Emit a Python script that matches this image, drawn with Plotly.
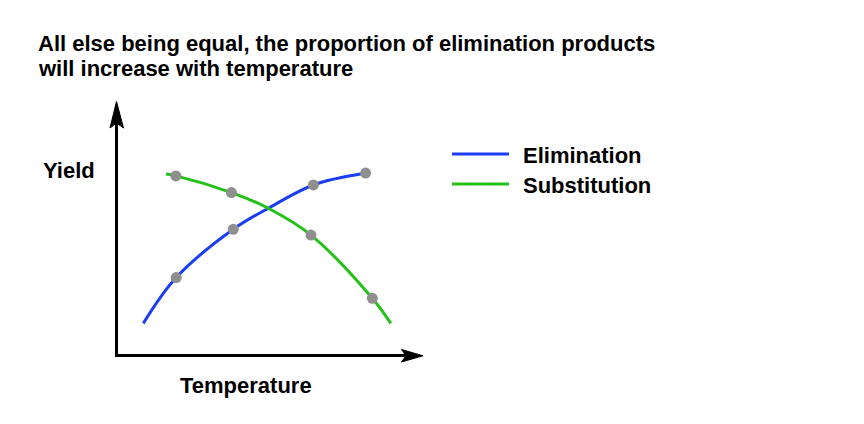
import plotly.graph_objects as go

# Data (arbitrary units: temperature 0-10, yield 0-10)
temp_elim_curve = [0.89, 1.96, 3.82, 4.96, 6.43, 8.05]
yield_elim_curve = [1.25, 3.06, 4.97, 5.80, 6.72, 7.17]
temp_elim_pts = [1.96, 3.82, 6.43, 8.13]
yield_elim_pts = [3.06, 4.97, 6.72, 7.19]

temp_sub_curve = [1.63, 1.95, 3.76, 4.96, 6.35, 8.35, 8.95]
yield_sub_curve = [7.15, 7.08, 6.42, 5.80, 4.74, 2.24, 1.25]
temp_sub_pts = [1.95, 3.76, 6.35, 8.35]
yield_sub_pts = [7.08, 6.42, 4.74, 2.24]

series_names = ["Elimination", "Substitution"]
title_lines = ["All else being equal, the proportion of elimination products",
               "will increase with temperature"]
x_label = "Temperature"
y_label = "Yield"

BLUE = "#1b3df5"
GREEN = "#24c118"
DOT = "#8f8f8f"
FONT = "Liberation Sans, Arial, Helvetica, sans-serif"

fig = go.Figure()
fig.add_trace(go.Scatter(x=temp_elim_curve, y=yield_elim_curve, mode="lines",
                         line=dict(color=BLUE, width=3, shape="spline", smoothing=1.0),
                         name=series_names[0], showlegend=False, hoverinfo="skip"))
fig.add_trace(go.Scatter(x=temp_sub_curve, y=yield_sub_curve, mode="lines",
                         line=dict(color=GREEN, width=3, shape="spline", smoothing=1.0),
                         name=series_names[1], showlegend=False, hoverinfo="skip"))
fig.add_trace(go.Scatter(x=temp_elim_pts, y=yield_elim_pts, mode="markers",
                         marker=dict(color=DOT, size=11, line=dict(width=0)),
                         showlegend=False))
fig.add_trace(go.Scatter(x=temp_sub_pts, y=yield_sub_pts, mode="markers",
                         marker=dict(color=DOT, size=11, line=dict(width=0)),
                         showlegend=False))

OFF = 8  # page body margin
W, H = 864 - OFF, 424 - OFF
# plot area in screen pixels: x 116..423, y 102..355
L, R, T, B = 116 - OFF, 864 - 423, 102 - OFF, 424 - 355
pw, ph = W - L - R, H - T - B

def px(xs):
    return (xs - OFF - L) / pw

def py(ys):
    return (H - B - (ys - OFF)) / ph

shapes = []
# axis shafts
shapes.append(dict(type="line", xref="paper", yref="paper",
                   x0=px(116.5), y0=py(356.5), x1=px(116.5), y1=py(122),
                   line=dict(color="black", width=3)))
shapes.append(dict(type="line", xref="paper", yref="paper",
                   x0=px(115), y0=py(355.5), x1=px(407), y1=py(355.5),
                   line=dict(color="black", width=3)))
# arrowheads
shapes.append(dict(type="path", xref="paper", yref="paper",
                   path=f"M{px(116.5)},{py(101.5)} L{px(110)},{py(128)} L{px(116.5)},{py(123)} L{px(123.5)},{py(128)} Z",
                   fillcolor="black", line=dict(color="black", width=1)))
shapes.append(dict(type="path", xref="paper", yref="paper",
                   path=f"M{px(423)},{py(355.8)} L{px(401.5)},{py(349.5)} L{px(406)},{py(355.8)} L{px(401.5)},{py(362)} Z",
                   fillcolor="black", line=dict(color="black", width=1)))
# legend lines
shapes.append(dict(type="line", xref="paper", yref="paper",
                   x0=px(452), y0=py(154), x1=px(509), y1=py(154),
                   line=dict(color=BLUE, width=3)))
shapes.append(dict(type="line", xref="paper", yref="paper",
                   x0=px(452), y0=py(184), x1=px(509), y1=py(184),
                   line=dict(color=GREEN, width=3)))

ann = []
def text(t, x, y, xanchor="left", size=22):
    ann.append(dict(text=f"<b>{t}</b>", xref="paper", yref="paper", x=px(x), y=py(y),
                    xanchor=xanchor, yanchor="middle", showarrow=False, borderpad=0,
                    font=dict(family=FONT, size=size, color="black")))

text(title_lines[0], 37, 43)
text(title_lines[1], 37, 68.5)
text(series_names[0], 522, 155)
text(series_names[1], 522, 185)
text(y_label, 69.5, 170, xanchor="center")
text(x_label, 245.5, 385, xanchor="center")

fig.update_layout(
    width=W, height=H,
    margin=dict(l=L, r=R, t=T, b=B, autoexpand=False),
    paper_bgcolor="white", plot_bgcolor="white",
    xaxis=dict(range=[0, 10], visible=False, fixedrange=True),
    yaxis=dict(range=[0, 10], visible=False, fixedrange=True),
    shapes=shapes, annotations=ann, showlegend=False,
)
fig.write_html("out.html")
